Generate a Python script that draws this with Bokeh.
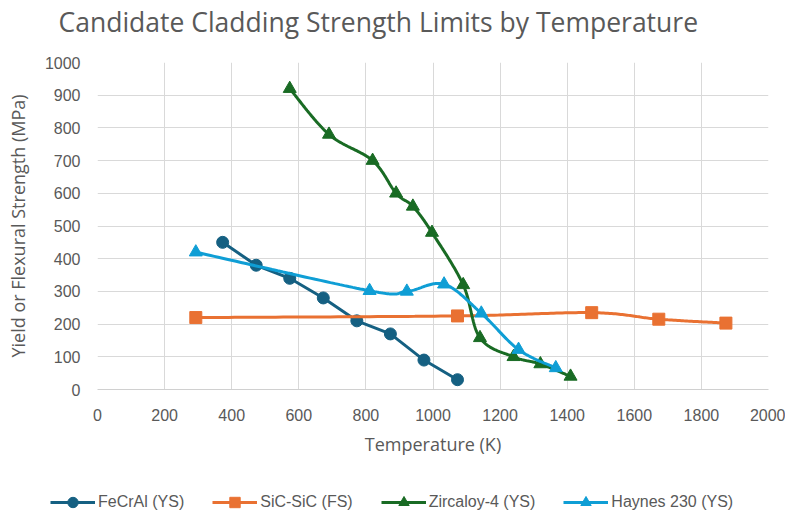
import numpy as np
from bokeh.plotting import figure
from bokeh.layouts import column
from bokeh.models import Legend, LegendItem, Range1d, FixedTicker, Title
from bokeh.embed import file_html
from bokeh.resources import INLINE

# ---- data ----
fecral_t = [373, 473, 573, 673, 773, 873, 973, 1073]
fecral_s = [450, 380, 340, 280, 210, 170, 90, 30]
sic_t = [293, 1073, 1473, 1673, 1873]
sic_s = [220, 225, 235, 215, 203]
zirc_t = [573, 690, 820, 890, 940, 997, 1090, 1140, 1240, 1320, 1410]
zirc_s = [920, 780, 700, 600, 560, 480, 320, 158, 100, 78, 40]
hay_t = [293, 811, 922, 1033, 1144, 1255, 1366]
hay_s = [420, 302, 300, 322, 233, 122, 66]
series_names = ["FeCrAl (YS)", "SiC-SiC (FS)", "Zircaloy-4 (YS)", "Haynes 230 (YS)"]

x_ticks = list(range(0, 2001, 200))
y_ticks = list(range(0, 1001, 100))

C_FE = "#156082"
C_SIC = "#E97132"
C_ZR = "#196B24"
C_HAY = "#0F9ED5"
TXT = "#595959"
FONT_T = "Open Sans"
FONT_N = "Liberation Sans"
LW = 3


def smooth(xs, ys, n=40):
    """Excel-style smoothed line (Catmull-Rom Bezier) through the points."""
    P = np.column_stack([xs, ys]).astype(float)
    E = np.vstack([P[0], P, P[-1]])
    out = []
    t = np.linspace(0, 1, n)[:, None]
    for i in range(len(P) - 1):
        p0, p1, p2, p3 = E[i], E[i + 1], E[i + 2], E[i + 3]
        c1 = p1 + (p2 - p0) / 6.0
        c2 = p2 - (p3 - p1) / 6.0
        B = (1 - t) ** 3 * p1 + 3 * (1 - t) ** 2 * t * c1 + 3 * (1 - t) * t ** 2 * c2 + t ** 3 * p2
        out.append(B if i == 0 else B[1:])
    B = np.vstack(out)
    return B[:, 0], B[:, 1]


def draw_series(fig):
    """Draw the four series on fig; return (line, marker) renderer pairs."""
    out = []
    l1 = fig.line(fecral_t, fecral_s, line_color=C_FE, line_width=LW)
    m1 = fig.scatter(fecral_t, fecral_s, marker="circle", size=12, fill_color=C_FE, line_color=C_FE)
    out.append([l1, m1])
    sx, sy = smooth(sic_t, sic_s)
    l2 = fig.line(sx, sy, line_color=C_SIC, line_width=LW)
    m2 = fig.scatter(sic_t, sic_s, marker="square", size=12, fill_color=C_SIC, line_color=C_SIC)
    out.append([l2, m2])
    zx, zy = smooth(zirc_t, zirc_s)
    l3 = fig.line(zx, zy, line_color=C_ZR, line_width=LW)
    m3 = fig.scatter(zirc_t, zirc_s, marker="triangle", size=13, fill_color=C_ZR, line_color=C_ZR)
    out.append([l3, m3])
    hx, hy = smooth(hay_t, hay_s)
    l4 = fig.line(hx, hy, line_color=C_HAY, line_width=LW)
    m4 = fig.scatter(hay_t, hay_s, marker="triangle", size=13, fill_color=C_HAY, line_color=C_HAY)
    out.append([l4, m4])
    return out


def no_frame_align(fig):
    if "frame_align" in type(fig).properties():
        fig.frame_align = False


# ---------------- main chart ----------------
p = figure(width=785, height=470, output_backend="svg", toolbar_location=None,
           x_range=Range1d(0, 2000), y_range=Range1d(0, 1000),
           min_border_left=97, min_border_right=17, min_border_top=62, min_border_bottom=81)
p.outline_line_color = None
no_frame_align(p)
xax = p.below[0]
yax = p.left[0]

p.title.text = "Candidate Cladding Strength Limits by Temperature"
p.title.align = "left"
p.title.offset = -39
p.title.text_font = FONT_T
p.title.text_font_size = "26.5px"
p.title.text_font_style = "normal"
p.title.text_color = TXT
p.title.standoff = 0

for ax in (xax, yax):
    ax.major_label_text_font = FONT_N
    ax.major_label_text_font_size = "16px"
    ax.major_label_text_color = TXT
    ax.axis_label_text_font = FONT_T
    ax.axis_label_text_font_size = "18px"
    ax.axis_label_text_font_style = "normal"
    ax.axis_label_text_color = TXT
    ax.major_tick_line_color = None
    ax.minor_tick_line_color = None
    ax.major_tick_out = 0
    ax.major_tick_in = 0
    ax.minor_tick_out = 0
    ax.minor_tick_in = 0

xax.ticker = FixedTicker(ticks=x_ticks)
yax.ticker = FixedTicker(ticks=y_ticks)
xax.axis_label = "Temperature (K)"
yax.axis_label = "Yield or Flexural Strength (MPa)"
xax.axis_line_color = "#D0D0D0"
xax.axis_line_width = 1
yax.axis_line_color = None
xax.major_label_standoff = 19
yax.major_label_standoff = 17
xax.axis_label_standoff = 8
yax.axis_label_standoff = 12

p.xgrid.ticker = FixedTicker(ticks=x_ticks)
p.ygrid.ticker = FixedTicker(ticks=y_ticks)
p.xgrid.grid_line_color = "#D9D9D9"
p.ygrid.grid_line_color = "#D9D9D9"
p.xgrid.grid_line_width = 1
p.ygrid.grid_line_width = 1

# blank space between the title and the plot frame
p.add_layout(Title(text=" ", text_font_size="1px", standoff=20), "above")

draw_series(p)

# ---------------- legend strip ----------------
# same series drawn again, outside this strip's visible range, only to key the legend
lg = figure(width=785, height=45, output_backend="svg", toolbar_location=None,
            x_range=Range1d(-20, -10), y_range=Range1d(-20, -10),
            x_axis_type=None, y_axis_type=None,
            min_border_left=0, min_border_right=0, min_border_top=0, min_border_bottom=0)
lg.outline_line_color = None
lg.xgrid.visible = False
lg.ygrid.visible = False
no_frame_align(lg)
pairs = draw_series(lg)

legend = Legend(items=[LegendItem(label=n, renderers=r) for n, r in zip(series_names, pairs)],
                orientation="horizontal", location=(50, 0))
legend.glyph_width = 45
legend.glyph_height = 26
legend.label_standoff = 3
legend.spacing = 28
legend.padding = 0
legend.margin = 0
legend.border_line_color = None
legend.background_fill_alpha = 0
legend.label_text_font = FONT_N
legend.label_text_font_size = "16px"
legend.label_text_color = TXT
lg.add_layout(legend, "center")

layout = column(p, lg, spacing=0)
open("out.html", "w").write(file_html(layout, INLINE))
